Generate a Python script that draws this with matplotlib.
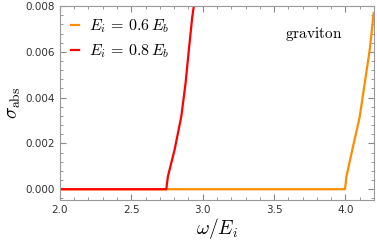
import numpy as np
import matplotlib
matplotlib.use("Agg")
import matplotlib.pyplot as plt
from matplotlib.ticker import MultipleLocator, FormatStrFormatter

plt.rcParams["mathtext.fontset"] = "cm"

# absorption cross section
w_06 = [2.0, 3.997, 4.007, 4.053, 4.100, 4.135, 4.170, 4.198]
s_06 = [0.0, 0.0, 0.00055, 0.00186, 0.00316, 0.00462, 0.00608, 0.0077]

w_08 = [2.0, 2.745, 2.756, 2.803, 2.850, 2.880, 2.903, 2.927, 2.938]
s_08 = [0.0, 0.0, 0.00055, 0.00172, 0.00317, 0.00463, 0.00608, 0.00753, 0.0080]

labels = [r"$E_i\,=\,0.6\,E_b$", r"$E_i\,=\,0.8\,E_b$"]
colors = ["#FF8C00", "#FF0000"]

fig = plt.figure(figsize=(3.77, 2.43), dpi=100)
ax = fig.add_axes([0.159, 0.177, 0.833, 0.798])

ax.plot(w_06, s_06, color=colors[0], lw=1.6, label=labels[0])
ax.plot(w_08, s_08, color=colors[1], lw=1.6, label=labels[1])

ax.set_xlim(2.0, 4.2)
ax.set_ylim(-0.00047, 0.008)
ax.xaxis.set_major_locator(MultipleLocator(0.5))
ax.xaxis.set_minor_locator(MultipleLocator(0.1))
ax.yaxis.set_major_locator(MultipleLocator(0.002))
ax.yaxis.set_minor_locator(MultipleLocator(0.0004))
ax.yaxis.set_major_formatter(FormatStrFormatter("%.3f"))
ax.tick_params(which="both", direction="in", top=True, right=True, color="#888888",
               labelsize=7.5, labelcolor="#333333")
ax.tick_params(which="major", length=4)
ax.tick_params(which="minor", length=2)
for s in ax.spines.values():
    s.set_color("#999999")

ax.text(3.58, 0.0066, r"$\mathrm{graviton}$", fontsize=11)
ax.set_xlabel(r"$\omega/E_i$", fontsize=14, labelpad=1)
ax.set_ylabel(r"$\sigma_{\rm abs}$", fontsize=14, labelpad=2)

ax.legend(loc="upper left", frameon=False, fontsize=11.5, handlelength=0.5,
          handletextpad=0.6, borderaxespad=0.3, labelspacing=0.45)

fig.savefig("out.png", dpi=100)
